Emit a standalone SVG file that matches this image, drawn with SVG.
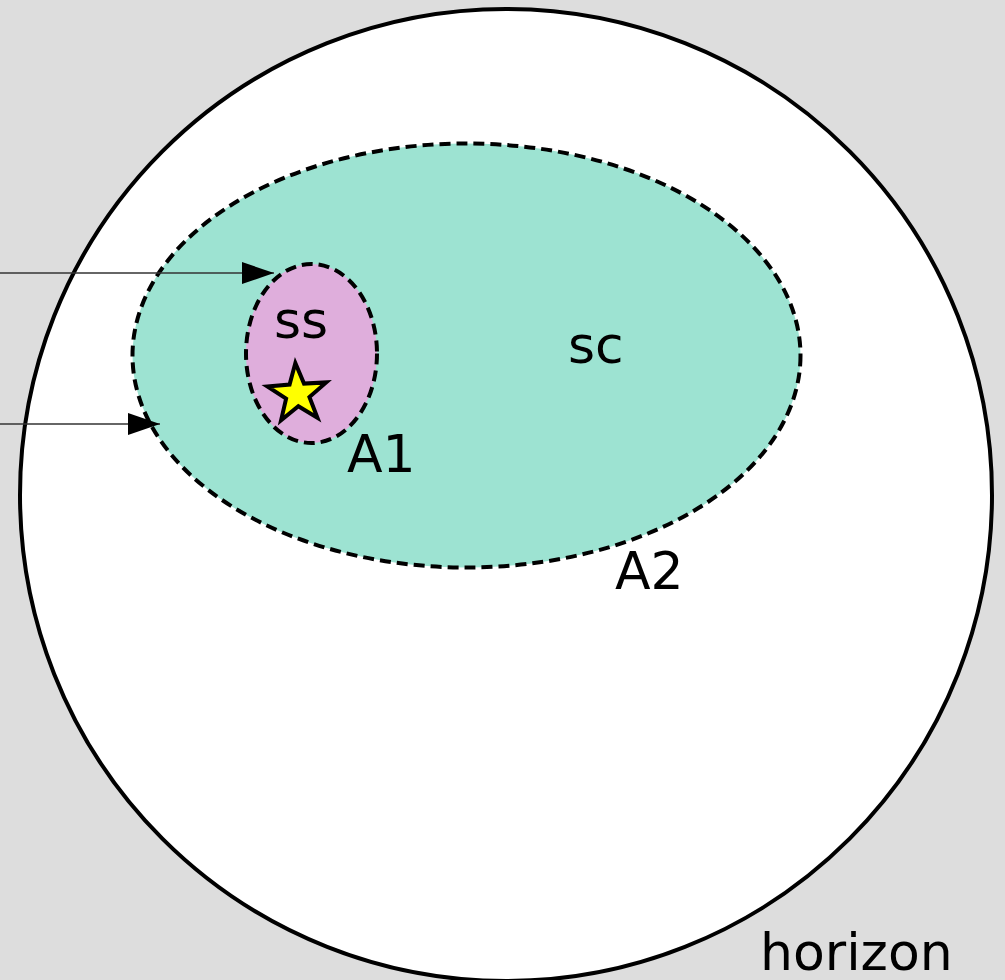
<svg xmlns="http://www.w3.org/2000/svg" width="1005" height="980" viewBox="0 0 1005 980">
<defs>
<style>
.lbl{font-family:"DejaVu Sans",sans-serif;font-size:52px;fill:#000}
.dash{stroke:#000;stroke-width:4;stroke-dasharray:11,6}
.conn{stroke:#333;stroke-width:1.4;fill:none}
</style>
<marker id="ah" markerWidth="32" markerHeight="22" refX="32" refY="11" orient="auto" markerUnits="userSpaceOnUse">
<path d="M0,0 L32,11 L0,22 Z" fill="#000"/>
</marker>
</defs>
<rect width="1005" height="980" fill="#dddddd"/>
<g id="horizon">
<circle cx="506" cy="495" r="486" fill="#ffffff" stroke="#000" stroke-width="4"/>
<text class="lbl" x="760" y="970">horizon</text>
</g>
<g id="A2">
<ellipse class="dash" cx="466.5" cy="355.5" rx="334" ry="212" fill="#9de3d2"/>
<text class="lbl" x="568" y="363">sc</text>
<text class="lbl" x="615" y="589">A2</text>
</g>
<g id="A1">
<ellipse class="dash" cx="311.5" cy="353.5" rx="65.5" ry="89.5" fill="#dfaedc"/>
<text class="lbl" x="274" y="338">ss</text>
<text class="lbl" x="347" y="472">A1</text>
</g>
<g id="star">
<polygon points="295.34,363.07 304.02,383.57 326.24,382.39 309.43,396.98 317.43,417.75 298.36,406.27 281.07,420.29 286.10,398.61 267.42,386.50 289.59,384.58" fill="#ffff00" stroke="#000" stroke-width="4" stroke-linejoin="miter" stroke-miterlimit="10"/>
</g>
<g id="connectors">
<line class="conn" x1="0" y1="273" x2="274" y2="273" marker-end="url(#ah)"/>
<line class="conn" x1="0" y1="424" x2="160" y2="424" marker-end="url(#ah)"/>
</g>
</svg>
